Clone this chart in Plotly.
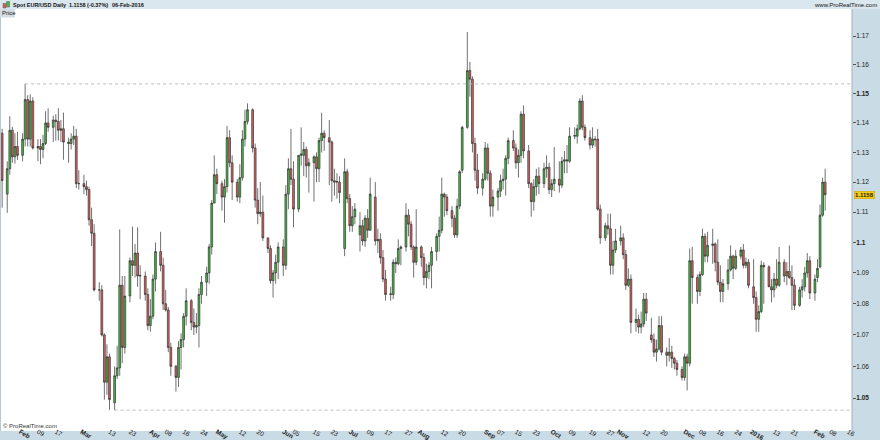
import math
import pandas as pd
import plotly.graph_objects as go

# ---------------- data (EUR/USD daily) ----------------
holidays = ["2015-12-25", "2016-01-01"]
trade_dates = [d for d in pd.bdate_range("2015-01-23", "2016-02-05")
               if d.strftime("%Y-%m-%d") not in holidays]

opens = [
    1.1365,
    1.1160, 1.1245, 1.1375, 1.1285, 1.1320,
    1.1290, 1.1345, 1.1480, 1.1345, 1.1475,
    1.1315, 1.1320, 1.1310, 1.1330, 1.1400,
    1.1385, 1.1410, 1.1405, 1.1375, 1.1380,
    1.1335, 1.1330, 1.1345, 1.1355, 1.1195,
    1.1195, 1.1185, 1.1175, 1.1075, 1.1030,
    1.0845, 1.0845, 1.0700, 1.0550, 1.0630,
    1.0485, 1.0570, 1.0595, 1.0860, 1.0660,
    1.0825, 1.0940, 1.0925, 1.0965, 1.0890,
    1.0890, 1.0830, 1.0730, 1.0760, 1.0880,
    1.0970, 1.0925, 1.0800, 1.0780, 1.0660,
    1.0600, 1.0565, 1.0660, 1.0685, 1.0760,
    1.0810, 1.0740, 1.0725, 1.0730, 1.0830,
    1.0870, 1.0900, 1.0985, 1.1130, 1.1225,
    1.1195, 1.1150, 1.1185, 1.1350, 1.1265,
    1.1200, 1.1150, 1.1215, 1.1345, 1.1405,
    1.1445, 1.1315, 1.1140, 1.1095, 1.1100,
    1.1015, 1.0980, 1.0875, 1.0900, 1.0935,
    1.0985, 1.0925, 1.1160, 1.1245, 1.1210,
    1.1110, 1.1290, 1.1290, 1.1310, 1.1255,
    1.1265, 1.1285, 1.1245, 1.1340, 1.1365,
    1.1350, 1.1335, 1.1205, 1.1200, 1.1200,
    1.0980, 1.1235, 1.1145, 1.1055, 1.1085,
    1.1025, 1.1055, 1.1005, 1.1080, 1.1040,
    1.1150, 1.1005, 1.1010, 1.0950, 1.0880,
    1.0830, 1.0830, 1.0935, 1.0930, 1.0980,
    1.0985, 1.1090, 1.1060, 1.0985, 1.0935,
    1.0985, 1.0950, 1.0885, 1.0905, 1.0925,
    1.0970, 1.1020, 1.1040, 1.1160, 1.1150,
    1.1105, 1.1080, 1.1025, 1.1120, 1.1240,
    1.1385, 1.1580, 1.1550, 1.1330, 1.1240,
    1.1180, 1.1210, 1.1315, 1.1230, 1.1120,
    1.1150, 1.1170, 1.1205, 1.1210, 1.1280,
    1.1340, 1.1315, 1.1265, 1.1290, 1.1430,
    1.1305, 1.1195, 1.1135, 1.1185, 1.1220,
    1.1195, 1.1245, 1.1250, 1.1175, 1.1195,
    1.1210, 1.1190, 1.1270, 1.1275, 1.1270,
    1.1355, 1.1355, 1.1380, 1.1475, 1.1385,
    1.1350, 1.1325, 1.1345, 1.1345, 1.1110,
    1.1015, 1.1055, 1.1045, 1.0925, 1.0975,
    1.1005, 1.1015, 1.0960, 1.0860, 1.0880,
    1.0740, 1.0750, 1.0725, 1.0735, 1.0815,
    1.0700, 1.0685, 1.0645, 1.0655, 1.0730,
    1.0645, 1.0635, 1.0645, 1.0625, 1.0610,
    1.0590, 1.0565, 1.0630, 1.0610, 1.0940,
    1.0885, 1.0840, 1.0895, 1.1020, 1.0955,
    1.0990, 1.0995, 1.0935, 1.0870, 1.0840,
    1.0865, 1.0910, 1.0955, 1.0915,
    1.0955, 1.0975, 1.0925, 1.0935,
    1.0855, 1.0820, 1.0750, 1.0775, 1.0925,
    1.0920, 1.0855, 1.0845, 1.0880, 1.0860,
    1.0935, 1.0890, 1.0905, 1.0885, 1.0860,
    1.0795, 1.0845, 1.0855, 1.0900, 1.0940,
    1.0835, 1.0885, 1.0920, 1.1090, 1.1200,
]

highs = [
    1.1380,
    1.1270, 1.1423, 1.1387, 1.1365, 1.1370,
    1.1365, 1.1534, 1.1495, 1.1498, 1.1488,
    1.1345, 1.1345, 1.1360, 1.1440, 1.1450,
    1.1425, 1.1430, 1.1450, 1.1410, 1.1435,
    1.1350, 1.1365, 1.1390, 1.1380, 1.1240,
    1.1225, 1.1205, 1.1185, 1.1115, 1.1060,
    1.0870, 1.0860, 1.0705, 1.0670, 1.0640,
    1.0600, 1.0665, 1.1043, 1.0890, 1.0890,
    1.0950, 1.1052, 1.0995, 1.1050, 1.0925,
    1.0905, 1.0850, 1.0815, 1.0895, 1.1000,
    1.1035, 1.0950, 1.0845, 1.0790, 1.0675,
    1.0605, 1.0680, 1.0705, 1.0770, 1.0850,
    1.0815, 1.0785, 1.0770, 1.0850, 1.0890,
    1.0920, 1.0995, 1.1140, 1.1290, 1.1245,
    1.1205, 1.1210, 1.1390, 1.1375, 1.1290,
    1.1210, 1.1260, 1.1375, 1.1445, 1.1467,
    1.1450, 1.1330, 1.1180, 1.1200, 1.1155,
    1.1015, 1.0990, 1.0910, 1.0960, 1.1000,
    1.1010, 1.1190, 1.1280, 1.1380, 1.1270,
    1.1290, 1.1385, 1.1335, 1.1320, 1.1280,
    1.1290, 1.1300, 1.1350, 1.1435, 1.1375,
    1.1410, 1.1340, 1.1245, 1.1230, 1.1220,
    1.1280, 1.1245, 1.1160, 1.1120, 1.1130,
    1.1100, 1.1075, 1.1090, 1.1110, 1.1215,
    1.1200, 1.1045, 1.1030, 1.0975, 1.0910,
    1.0855, 1.0945, 1.0950, 1.1010, 1.0990,
    1.1130, 1.1110, 1.1070, 1.0990, 1.1110,
    1.0990, 1.0965, 1.0930, 1.0935, 1.0985,
    1.1030, 1.1085, 1.1215, 1.1165, 1.1160,
    1.1120, 1.1090, 1.1145, 1.1240, 1.1390,
    1.1714, 1.1610, 1.1560, 1.1350, 1.1295,
    1.1230, 1.1335, 1.1330, 1.1240, 1.1175,
    1.1180, 1.1225, 1.1245, 1.1290, 1.1350,
    1.1375, 1.1330, 1.1310, 1.1440, 1.1460,
    1.1325, 1.1200, 1.1210, 1.1245, 1.1250,
    1.1265, 1.1290, 1.1265, 1.1210, 1.1318,
    1.1270, 1.1285, 1.1305, 1.1325, 1.1385,
    1.1385, 1.1395, 1.1485, 1.1495, 1.1395,
    1.1375, 1.1385, 1.1355, 1.1380, 1.1125,
    1.1065, 1.1095, 1.1095, 1.1005, 1.1045,
    1.1055, 1.1030, 1.0975, 1.0915, 1.0895,
    1.0785, 1.0765, 1.0775, 1.0835, 1.0835,
    1.0755, 1.0705, 1.0685, 1.0760, 1.0760,
    1.0660, 1.0690, 1.0665, 1.0630, 1.0620,
    1.0600, 1.0640, 1.0640, 1.0980, 1.0985,
    1.0895, 1.0905, 1.1045, 1.1030, 1.1035,
    1.1045, 1.1000, 1.1010, 1.0925, 1.0880,
    1.0945, 1.0990, 1.0960, 1.0975,
    1.0985, 1.0995, 1.0950, 1.0945,
    1.0945, 1.0840, 1.0795, 1.0940, 1.0935,
    1.0925, 1.0880, 1.0900, 1.0945, 1.0985,
    1.0945, 1.0935, 1.0990, 1.0925, 1.0880,
    1.0855, 1.0880, 1.0920, 1.0965, 1.0955,
    1.0895, 1.0945, 1.1125, 1.1215, 1.1245,
]

lows = [
    1.1115,
    1.1098, 1.1225, 1.1265, 1.1262, 1.1275,
    1.1270, 1.1320, 1.1320, 1.1320, 1.1310,
    1.1270, 1.1260, 1.1280, 1.1325, 1.1370,
    1.1335, 1.1340, 1.1340, 1.1335, 1.1275,
    1.1265, 1.1310, 1.1325, 1.1180, 1.1175,
    1.1160, 1.1155, 1.1055, 1.0988, 1.0840,
    1.0810, 1.0695, 1.0495, 1.0510, 1.0463,
    1.0462, 1.0560, 1.0570, 1.0610, 1.0640,
    1.0805, 1.0890, 1.0885, 1.0855, 1.0815,
    1.0810, 1.0715, 1.0710, 1.0750, 1.0840,
    1.0905, 1.0780, 1.0775, 1.0645, 1.0570,
    1.0520, 1.0535, 1.0590, 1.0660, 1.0730,
    1.0715, 1.0700, 1.0705, 1.0660, 1.0800,
    1.0825, 1.0865, 1.0960, 1.1130, 1.1160,
    1.1105, 1.1065, 1.1165, 1.1250, 1.1140,
    1.1135, 1.1130, 1.1205, 1.1320, 1.1395,
    1.1300, 1.1115, 1.1060, 1.1085, 1.1005,
    1.0965, 1.0865, 1.0820, 1.0865, 1.0880,
    1.0890, 1.0910, 1.1110, 1.1190, 1.1050,
    1.1100, 1.1255, 1.1220, 1.1215, 1.1165,
    1.1135, 1.1200, 1.1200, 1.1300, 1.1305,
    1.1190, 1.1135, 1.1155, 1.1145, 1.1130,
    1.0955, 1.1130, 1.1035, 1.1035, 1.1060,
    1.0970, 1.0990, 1.0985, 1.1015, 1.1040,
    1.0990, 1.0965, 1.0930, 1.0870, 1.0810,
    1.0810, 1.0815, 1.0900, 1.0925, 1.0925,
    1.0970, 1.1020, 1.0975, 1.0885, 1.0925,
    1.0920, 1.0860, 1.0850, 1.0880, 1.0850,
    1.0940, 1.0970, 1.1030, 1.1085, 1.1090,
    1.1050, 1.1015, 1.1015, 1.1110, 1.1230,
    1.1380, 1.1490, 1.1300, 1.1205, 1.1160,
    1.1155, 1.1205, 1.1205, 1.1085, 1.1085,
    1.1105, 1.1150, 1.1175, 1.1155, 1.1260,
    1.1305, 1.1245, 1.1215, 1.1265, 1.1280,
    1.1180, 1.1085, 1.1105, 1.1155, 1.1160,
    1.1180, 1.1215, 1.1160, 1.1150, 1.1170,
    1.1165, 1.1180, 1.1230, 1.1230, 1.1265,
    1.1345, 1.1330, 1.1375, 1.1375, 1.1340,
    1.1310, 1.1315, 1.1320, 1.1105, 1.0995,
    1.1005, 1.1025, 1.0895, 1.0895, 1.0965,
    1.0990, 1.0945, 1.0845, 1.0855, 1.0705,
    1.0710, 1.0705, 1.0705, 1.0725, 1.0745,
    1.0675, 1.0630, 1.0615, 1.0650, 1.0635,
    1.0600, 1.0615, 1.0595, 1.0590, 1.0570,
    1.0555, 1.0555, 1.0524, 1.0600, 1.0800,
    1.0800, 1.0825, 1.0890, 1.0935, 1.0935,
    1.0930, 1.0905, 1.0860, 1.0805, 1.0805,
    1.0845, 1.0905, 1.0880, 1.0910,
    1.0945, 1.0915, 1.0915, 1.0850,
    1.0800, 1.0710, 1.0710, 1.0770, 1.0800,
    1.0855, 1.0805, 1.0820, 1.0850, 1.0855,
    1.0870, 1.0860, 1.0880, 1.0780, 1.0780,
    1.0790, 1.0820, 1.0840, 1.0885, 1.0815,
    1.0810, 1.0870, 1.0915, 1.1085, 1.1105,
]

closes = [
    1.1205,
    1.1245, 1.1375, 1.1285, 1.1320, 1.1290,
    1.1345, 1.1480, 1.1345, 1.1475, 1.1315,
    1.1320, 1.1310, 1.1330, 1.1400, 1.1385,
    1.1410, 1.1405, 1.1375, 1.1380, 1.1335,
    1.1330, 1.1345, 1.1355, 1.1195, 1.1195,
    1.1185, 1.1175, 1.1075, 1.1030, 1.0845,
    1.0845, 1.0700, 1.0550, 1.0630, 1.0495,
    1.0570, 1.0595, 1.0860, 1.0660, 1.0825,
    1.0940, 1.0925, 1.0965, 1.0890, 1.0892,
    1.0830, 1.0730, 1.0760, 1.0880, 1.0970,
    1.0925, 1.0800, 1.0780, 1.0660, 1.0600,
    1.0565, 1.0660, 1.0685, 1.0760, 1.0810,
    1.0740, 1.0725, 1.0730, 1.0830, 1.0870,
    1.0900, 1.0985, 1.1130, 1.1225, 1.1195,
    1.1150, 1.1185, 1.1350, 1.1265, 1.1200,
    1.1150, 1.1215, 1.1345, 1.1405, 1.1445,
    1.1315, 1.1140, 1.1095, 1.1100, 1.1015,
    1.0980, 1.0875, 1.0900, 1.0935, 1.0985,
    1.0925, 1.1160, 1.1245, 1.1210, 1.1110,
    1.1290, 1.1295, 1.1310, 1.1255, 1.1265,
    1.1285, 1.1245, 1.1340, 1.1365, 1.1350,
    1.1335, 1.1205, 1.1200, 1.1202, 1.1165,
    1.1235, 1.1145, 1.1055, 1.1085, 1.1110,
    1.1055, 1.1005, 1.1080, 1.1040, 1.1160,
    1.1005, 1.1010, 1.0950, 1.0880, 1.0830,
    1.0832, 1.0935, 1.0930, 1.0980, 1.0985,
    1.1090, 1.1060, 1.0985, 1.0935, 1.0985,
    1.0950, 1.0885, 1.0905, 1.0925, 1.0970,
    1.1020, 1.1040, 1.1160, 1.1150, 1.1105,
    1.1080, 1.1025, 1.1120, 1.1235, 1.1385,
    1.1580, 1.1550, 1.1330, 1.1240, 1.1180,
    1.1210, 1.1315, 1.1230, 1.1120, 1.1150,
    1.1170, 1.1205, 1.1210, 1.1280, 1.1340,
    1.1315, 1.1265, 1.1290, 1.1430, 1.1305,
    1.1195, 1.1135, 1.1185, 1.1220, 1.1195,
    1.1245, 1.1250, 1.1175, 1.1195, 1.1210,
    1.1190, 1.1270, 1.1275, 1.1272, 1.1355,
    1.1357, 1.1380, 1.1475, 1.1385, 1.1350,
    1.1325, 1.1345, 1.1343, 1.1110, 1.1015,
    1.1055, 1.1045, 1.0925, 1.0975, 1.1005,
    1.1015, 1.0960, 1.0860, 1.0880, 1.0740,
    1.0750, 1.0725, 1.0735, 1.0815, 1.0770,
    1.0685, 1.0645, 1.0655, 1.0730, 1.0645,
    1.0635, 1.0645, 1.0625, 1.0610, 1.0590,
    1.0565, 1.0630, 1.0610, 1.0940, 1.0885,
    1.0840, 1.0895, 1.1020, 1.0955, 1.0990,
    1.0995, 1.0935, 1.0870, 1.0840, 1.0865,
    1.0910, 1.0955, 1.0915, 1.0955,
    1.0975, 1.0925, 1.0935, 1.0860,
    1.0820, 1.0750, 1.0775, 1.0925, 1.0920,
    1.0855, 1.0845, 1.0880, 1.0860, 1.0935,
    1.0890, 1.0905, 1.0885, 1.0860, 1.0795,
    1.0845, 1.0855, 1.0900, 1.0940, 1.0835,
    1.0880, 1.0915, 1.1090, 1.1200, 1.1158,
]

# horizontal reference lines (Feb-2015 high, Mar-2015 low)
resistance_start, resistance_level = "2015-02-03", 1.1534
support_start, support_level = "2015-03-16", 1.0462

y_ticks = [1.05, 1.06, 1.07, 1.08, 1.09, 1.10, 1.11, 1.12, 1.13, 1.14, 1.15, 1.16, 1.17]
y_tick_text = ["<b>1.05</b>", "1.06", "1.07", "1.08", "1.09", "<b>1.1</b>", "1.11",
               "1.12", "1.13", "1.14", "<b>1.15</b>", "1.16", "1.17"]

x_ticks = ["2015-02-01", "2015-02-09", "2015-02-17", "2015-03-01", "2015-03-13", "2015-03-23",
           "2015-04-01", "2015-04-08", "2015-04-16", "2015-04-24", "2015-05-01", "2015-05-12",
           "2015-05-20", "2015-06-01", "2015-06-05", "2015-06-15", "2015-06-23", "2015-07-01",
           "2015-07-09", "2015-07-17", "2015-07-27", "2015-08-02", "2015-08-12", "2015-08-20",
           "2015-09-01", "2015-09-07", "2015-09-15", "2015-09-23", "2015-10-01", "2015-10-09",
           "2015-10-19", "2015-10-27", "2015-11-01", "2015-11-12", "2015-11-20", "2015-12-01",
           "2015-12-08", "2015-12-16", "2015-12-24", "2016-01-03", "2016-01-13", "2016-01-21",
           "2016-02-01", "2016-02-08", "2016-02-16"]
x_tick_text = ["Feb", "09", "17", "Mar", "13", "23", "Apr", "08", "16", "24", "May", "12", "20",
               "Jun", "05", "15", "23", "Jul", "09", "17", "27", "Aug", "12", "20", "Sep", "07",
               "15", "23", "Oct", "09", "19", "27", "Nov", "12", "20", "Dec", "08", "16", "24",
               "2016", "13", "21", "Feb", "08", "16"]
month_labels = {"Jan", "Feb", "Mar", "Apr", "May", "Jun", "Jul", "Aug", "Sep", "Oct", "Nov", "Dec", "2016"}
x_tick_text = [f"<b>{t}</b>" if t in month_labels else t for t in x_tick_text]

assert len(opens) == len(highs) == len(lows) == len(closes) == len(trade_dates)

# ---------------- figure ----------------
W, H = 880, 440
ML, MR, MT, MB = 0, 28, 9, 9
PW, PH = W - ML - MR, H - MT - MB
X_START, X_END = "2015-01-22 04:00", "2016-02-17 12:00"

def px_x(x):
    return (x - ML) / PW

def px_y(y):
    return (H - MB - y) / PH

font_family = "Liberation Sans, Arial, sans-serif"
panel_color = "#c9dbe5"

fig = go.Figure()

fig.add_trace(go.Scatter(x=[resistance_start, X_END], y=[resistance_level] * 2, mode="lines",
                         line=dict(color="#bdbdbd", width=1, dash="3px,3px"),
                         hoverinfo="skip", showlegend=False))
fig.add_trace(go.Scatter(x=[support_start, X_END], y=[support_level] * 2, mode="lines",
                         line=dict(color="#bdbdbd", width=1, dash="3px,3px"),
                         hoverinfo="skip", showlegend=False))

fig.add_trace(go.Candlestick(
    x=trade_dates, open=opens, high=highs, low=lows, close=closes,
    increasing=dict(line=dict(color="#333333", width=0.7), fillcolor="#3cc03c"),
    decreasing=dict(line=dict(color="#333333", width=0.7), fillcolor="#e25c5c"),
    whiskerwidth=0, showlegend=False, name="EUR/USD"))

shapes = [
    # header bar
    dict(type="rect", xref="paper", yref="paper", x0=px_x(0), x1=px_x(W), y0=px_y(MT), y1=px_y(0),
         fillcolor="#dbe7ee", line=dict(width=0), layer="below"),
    # separator between plot and price panel
    dict(type="line", xref="paper", yref="paper", x0=1, x1=1, y0=0, y1=1,
         line=dict(color="#9fb3bf", width=1)),
    # left border of the plot
    dict(type="line", xref="paper", yref="paper", x0=px_x(0.5), x1=px_x(0.5), y0=0, y1=1,
         line=dict(color="#b9c9d3", width=1)),
    # "Price" tag
    dict(type="rect", xref="paper", yref="paper", x0=px_x(0), x1=px_x(15), y0=px_y(17.5), y1=px_y(MT),
         fillcolor="#d3dde3", line=dict(width=0)),
    # icon
    dict(type="rect", xref="paper", yref="paper", x0=px_x(3), x1=px_x(6), y0=px_y(8), y1=px_y(3.5),
         fillcolor="#e25c5c", line=dict(color="#555", width=0.5)),
    dict(type="rect", xref="paper", yref="paper", x0=px_x(6.5), x1=px_x(9.5), y0=px_y(7), y1=px_y(1.5),
         fillcolor="#3cc03c", line=dict(color="#555", width=0.5)),
]

hdr_font = dict(family=font_family, size=5.5, color="#111")
annotations = [
    dict(text="<b>Spot EUR/USD</b>", x=px_x(12), y=px_y(4.6), xanchor="left", yanchor="middle"),
    dict(text="<b>Daily</b>", x=px_x(52), y=px_y(4.6), xanchor="left", yanchor="middle"),
    dict(text=f"<b>{closes[-1]:.4f} (-0.37%)</b>", x=px_x(68), y=px_y(4.6), xanchor="left", yanchor="middle"),
    dict(text="<b>06-Feb-2016</b>", x=px_x(111), y=px_y(4.6), xanchor="left", yanchor="middle"),
    dict(text="www.ProRealTime.com", x=px_x(878), y=px_y(4.6), xanchor="right", yanchor="middle",
         font=dict(family=font_family, size=6, color="#111")),
    dict(text="Price", x=px_x(1), y=px_y(13.2), xanchor="left", yanchor="middle",
         font=dict(family=font_family, size=6, color="#111")),
    dict(text="© ProRealTime.com", x=px_x(1.5), y=px_y(426), xanchor="left", yanchor="middle",
         font=dict(family=font_family, size=6, color="#333")),
]
for a in annotations:
    a.setdefault("font", hdr_font)
    a.update(xref="paper", yref="paper", showarrow=False, borderpad=0)

annotations.append(dict(
    text=f"<b>{closes[-1]:.4f}</b>", xref="paper", yref="y", x=px_x(853.5), y=math.log10(closes[-1]),
    xanchor="left", yanchor="middle", showarrow=False, bgcolor="#f5cc12",
    bordercolor="#c7a000", borderwidth=0.5, borderpad=0.5,
    font=dict(family=font_family, size=6, color="#222")))

fig.update_layout(
    width=W, height=H,
    margin=dict(l=ML, r=MR, t=MT, b=MB, pad=0),
    paper_bgcolor=panel_color, plot_bgcolor="#ffffff",
    showlegend=False, boxgap=0.0,
    shapes=shapes, annotations=annotations,
    font=dict(family=font_family, size=7, color="#222"),
    xaxis=dict(type="date", range=[X_START, X_END],
               rangebreaks=[dict(bounds=["sat", "sun"]), dict(values=holidays)],
               rangeslider=dict(visible=False),
               tickmode="array", tickvals=x_ticks, ticktext=x_tick_text,
               ticks="", showgrid=False, zeroline=False, showline=False,
               tickfont=dict(family=font_family, size=6.5, color="#222"),
               ticklabelstandoff=-5, automargin=False),
    yaxis=dict(type="log", side="right",
               range=[math.log10(1.0397), math.log10(1.1795)],
               tickmode="array", tickvals=y_ticks, ticktext=y_tick_text,
               ticks="outside", ticklen=3, tickcolor="#555", tickwidth=1,
               showgrid=False, zeroline=False, showline=False,
               tickfont=dict(family=font_family, size=6.5, color="#222"),
               ticklabelstandoff=-1, automargin=False),
)

fig.write_html("out.html", config={"displayModeBar": False},
               post_script="document.body.style.margin='0';document.body.style.overflow='hidden';")
